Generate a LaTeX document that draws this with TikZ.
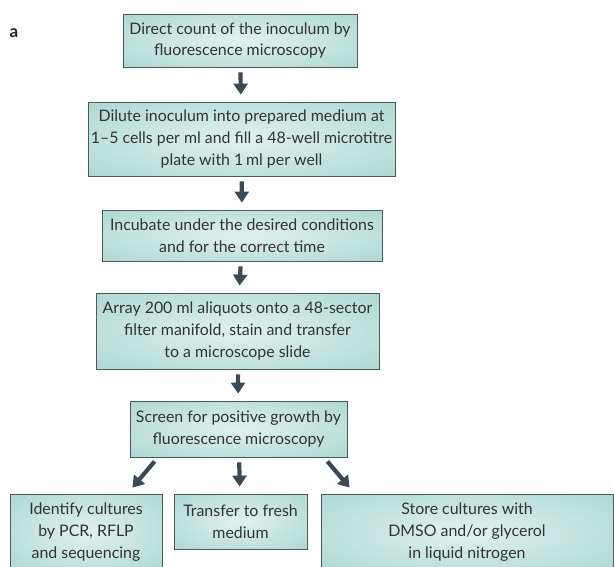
\documentclass[tikz,border=0pt]{standalone}
\usepackage{fontspec}
\setmainfont{Lato}
\usetikzlibrary{arrows.meta}
\definecolor{boxmid}{HTML}{E0F1EE}
\definecolor{boxedge}{HTML}{A0D2CA}
\definecolor{boxline}{HTML}{4C5A5C}
\definecolor{arrowgray}{HTML}{3B4B55}
\pgfdeclareradialshading{boxglow}{\pgfpoint{0bp}{0bp}}{%
  color(0bp)=(boxmid); color(45bp)=(boxedge); color(100bp)=(boxedge)}

\begin{document}
\begin{tikzpicture}[
  x=1pt, y=-1pt,
  stepbox/.style={
    draw=boxline, line width=0.8pt, shading=boxglow,
    align=center, inner sep=0pt, text=black!80,
    font=\fontsize{15.9}{21.7}\selectfont,
  },
  flow/.style={
    draw=arrowgray, line width=4.2pt,
    -{Triangle[width=14pt,length=11pt]},
    shorten <=5pt, shorten >=7pt,
  },
]
\useasboundingbox (0,0) rectangle (614,566);
\clip (0,0) rectangle (614,566);
\node[font=\fontsize{17}{18}\bfseries\selectfont, text=black!85] (tag) at (14,33) {a};
\node[stepbox, minimum width=234pt, minimum height=53pt] (count) at (240,40.5)
  {Direct count of the inoculum by\\fluorescence microscopy};
\node[stepbox, minimum width=307pt, minimum height=74pt] (dilute) at (241.5,139)
  {Dilute inoculum into prepared medium at\\1--5 cells per ml and fill a 48-well microtitre\\plate with 1\,ml per well};
\node[stepbox, minimum width=280pt, minimum height=51pt] (incubate) at (242,235.5)
  {Incubate under the desired conditions\\and for the correct time};
\node[stepbox, minimum width=283pt, minimum height=76pt] (array) at (237.5,331)
  {Array 200 ml aliquots onto a 48-sector\\filter manifold, stain and transfer\\to a microscope slide};
\node[stepbox, minimum width=217pt, minimum height=56pt] (screen) at (238.5,429)
  {Screen for positive growth by\\fluorescence microscopy};
\node[stepbox, minimum width=152pt, minimum height=76pt] (identify) at (86,532)
  {Identify cultures\\by PCR, RFLP\\and sequencing};
\node[stepbox, minimum width=133pt, minimum height=55pt] (fresh) at (240.5,521.5)
  {Transfer to fresh\\medium};
\node[stepbox, minimum width=292pt, minimum height=76pt] (store) at (467,532)
  {Store cultures with\\DMSO and/or glycerol\\in liquid nitrogen};

\draw[flow] (count) -- (dilute);
\draw[flow] (dilute) -- (incubate);
\draw[flow] (incubate) -- (array);
\draw[flow] (array) -- (screen);
\draw[flow] (screen) -- (fresh);
\draw[flow, shorten <=0pt, shorten >=0pt]
  ([xshift=25pt,yshift=-4pt]screen.south west) -- ([xshift=-30pt,yshift=6pt]identify.north east);
\draw[flow, shorten <=0pt, shorten >=0pt]
  ([xshift=-20pt,yshift=-4pt]screen.south east) -- ([xshift=29pt,yshift=6pt]store.north west);
\end{tikzpicture}
\end{document}
